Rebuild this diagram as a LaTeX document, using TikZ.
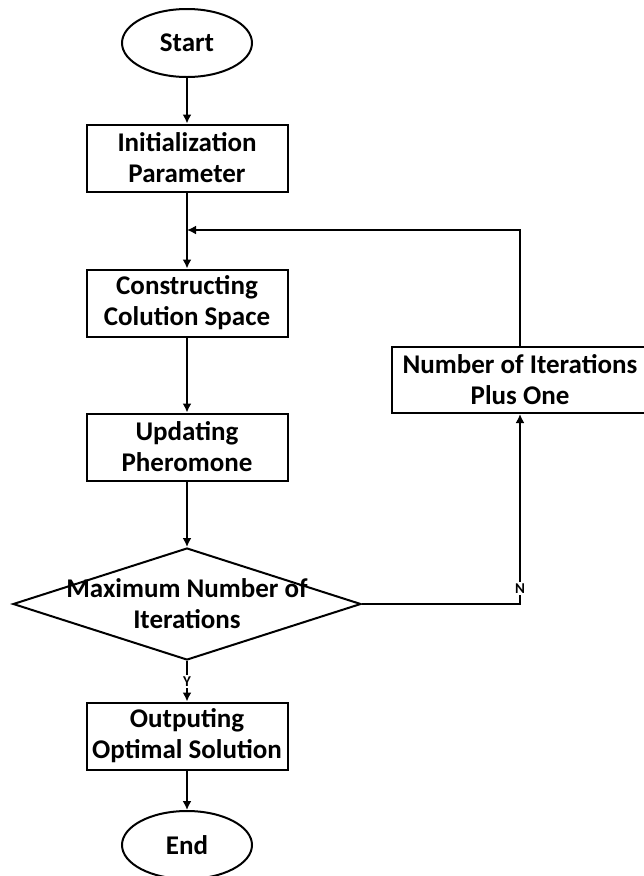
\documentclass[tikz,border=0pt]{standalone}
\usepackage{fontspec}
\setmainfont{Carlito}
\usepackage{tikz}
\usetikzlibrary{shapes.geometric, arrows, arrows.meta, positioning, calc}

\tikzset{
    startstop/.style={ellipse, draw, line width=2pt, minimum width=130pt, minimum height=68pt,
        font=\bfseries\fontsize{27}{31}\selectfont},
    process/.style={rectangle, draw, line width=2pt, minimum width=201pt, minimum height=67pt,
        align=center, font=\bfseries\fontsize{27}{31}\selectfont},
    decision/.style={diamond, draw, line width=2pt, minimum width=348pt, minimum height=112pt, inner sep=0pt},
    flow/.style={-{Latex[length=9pt, width=9pt]}, line width=2pt},
    branch/.style={fill=white, inner sep=1.5pt, font=\bfseries\fontsize{15}{15}\selectfont}
}

\begin{document}
\begin{tikzpicture}[x=1pt, y=-1pt]
\useasboundingbox (0,0) rectangle (643,876);
% Main column of the ant colony loop
\node[startstop] (start) at (187,43) {Start};
\node[process] (init) at (187,158) {Initialization\\Parameter};
\node[process] (build) at (187,303) {Constructing\\Colution Space};
\node[process] (update) at (187,447) {Updating\\Pheromone};
\node[decision] (check) at (187,604) {};
\node[align=center, font=\bfseries\fontsize{27}{31}\selectfont] (checktext) at (check) {Maximum Number of\\Iterations};
\node[process] (output) at (187,736) {Outputing\\Optimal Solution};
\node[startstop] (end) at (187,845) {End};
% Feedback branch
\node[process, minimum width=256pt, minimum height=66pt] (plusone) at (520,380) {Number of Iterations\\Plus One};
\coordinate (join) at (187,230);

\draw[flow] (start) -- (init);
\draw[flow] (init) -- (build);
\draw[flow] (build) -- (update);
\draw[flow] (update) -- (check);
\draw[flow] (check) -- node[branch] (yes) {Y} (output);
\draw[flow] (output) -- (end);
\draw[flow] (check.east) -| node[branch, pos=0.54] (no) {N} (plusone.south);
\draw[flow] (plusone.north) |- (join);
\end{tikzpicture}
\end{document}
